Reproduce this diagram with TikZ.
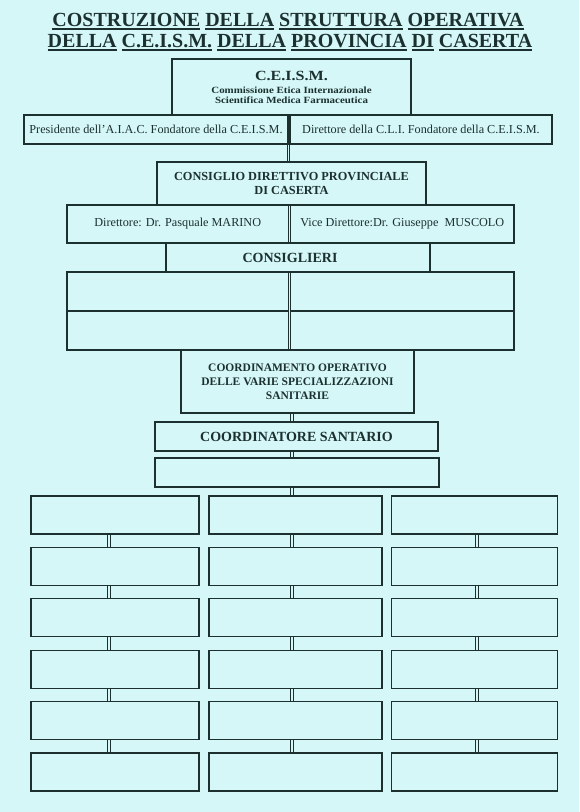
\documentclass[tikz,border=0pt]{standalone}
\usepackage{fontspec}
\setmainfont{Liberation Serif}
\newfontfamily\widebf[FakeStretch=1.15]{Liberation Serif}
\usetikzlibrary{backgrounds}

\definecolor{bg}{RGB}{213,247,247}
\definecolor{ink}{RGB}{28,48,48}
% parola sottolineata
\newsavebox\ulbox
\newcommand\ulw[1]{\sbox\ulbox{#1}\rlap{\rule[-3.5pt]{\wd\ulbox}{1.8pt}}\usebox\ulbox}

\begin{document}
\begin{tikzpicture}[x=1pt, y=-1pt,
    box/.style={draw=ink, line width=1.2pt, inner sep=2pt, text=ink, align=center,
                font=\fontsize{12.2}{14}\selectfont},
    head/.style={box, font=\bfseries\fontsize{11.5}{14}\selectfont},
    bighead/.style={box, font=\bfseries\fontsize{14}{16}\selectfont},
    link/.style={draw=ink, line width=0.8pt, double=bg, double distance=1.6pt}]
  \begin{scope}[on background layer]
    \fill[bg] (0,0) rectangle (579,812);
  \end{scope}
  \useasboundingbox (0,0) rectangle (579,812);

  % titolo
  \node[text=ink, font=\bfseries\fontsize{20}{22}\selectfont, anchor=base] (tit1) at (288,26)
    {\ulw{COSTRUZIONE} \ulw{DELLA} \ulw{STRUTTURA} \ulw{OPERATIVA}};
  \node[text=ink, font=\bfseries\fontsize{20}{22}\selectfont, anchor=base] (tit2) at (290,47)
    {\ulw{DELLA} \ulw{C.E.I.S.M.} \ulw{DELLA} \ulw{PROVINCIA} \ulw{DI} \ulw{CASERTA}};

  % vertice
  \node[box, minimum width=239, minimum height=56, font=\widebf\bfseries\fontsize{9.5}{10}\selectfont] (ceism) at (291.5,87)
    {{\fontsize{14}{16}\selectfont C.E.I.S.M.}\\[3pt]
     Commissione Etica Internazionale\\Scientifica Medica Farmaceutica};
  \node[box, minimum width=264, minimum height=29] (pres) at (156,129.5)
    {Presidente dell'A.I.A.C. Fondatore della C.E.I.S.M.};
  \node[box, minimum width=262, minimum height=29] (dirc) at (421,129.5)
    {Direttore della C.L.I. Fondatore della C.E.I.S.M.};

  % consiglio
  \node[head, font=\bfseries\fontsize{12.3}{14}\selectfont, minimum width=269, minimum height=43] (cons) at (291.5,183.5)
    {CONSIGLIO DIRETTIVO PROVINCIALE\\DI CASERTA};
  \node[box, minimum width=221.5, minimum height=38] (marino) at (177.75,224)
    {Direttore: Dr. Pasquale MARINO};
  \node[box, minimum width=223.5, minimum height=38] (muscolo) at (402.25,224)
    {Vice Direttore:Dr. Giuseppe\ \ MUSCOLO};
  \node[bighead, minimum width=264, minimum height=29] (consg) at (298,257.5) {CONSIGLIERI\kern16pt};
  \foreach \n/\y in {1/291.5, 2/330.5} {
    \node[box, minimum width=221.5, minimum height=39] (sx\n) at (177.75,\y) {};
    \node[box, minimum width=223.5, minimum height=39] (dx\n) at (402.25,\y) {};
  }

  % coordinamento
  \node[head, minimum width=233, minimum height=63] (coord) at (297.5,381.5)
    {COORDINAMENTO OPERATIVO\\DELLE VARIE SPECIALIZZAZIONI\\SANITARIE};
  \node[bighead, minimum width=283, minimum height=29] (coordsan) at (296.5,436.5)
    {COORDINATORE SANTARIO};
  \node[box, minimum width=284, minimum height=29] (vuoto) at (297,472.5) {};
  \coordinate (asse) at (292,0);

  % griglia delle specializzazioni
  \foreach \c/\x/\w/\lx in {a/115/168/109, b/295.5/173/292, c/474.5/166/477} {
    \coordinate (lk\c) at (\lx,0);
    \foreach \r in {1,...,6}
      \node[box, minimum width=\w, minimum height=38] (\c\r) at (\x,{463.6+51.4*\r}) {};
    \begin{scope}[on background layer]
      \foreach \r [evaluate=\r as \s using int(\r+1)] in {1,...,5}
        \draw[link] (\c\r.south -| lk\c) -- (\c\s.north -| lk\c);
    \end{scope}
  }

  \begin{scope}[on background layer]
    \draw[link] (pres.south east) -- (cons.north -| pres.south east);
    \draw[link] (coord.south -| asse) -- (coordsan.north -| asse);
    \draw[link] (coordsan.south -| asse) -- (vuoto.north -| asse);
    \draw[link] (vuoto.south -| asse) -- (b1.north -| asse);
  \end{scope}
\end{tikzpicture}
\end{document}
